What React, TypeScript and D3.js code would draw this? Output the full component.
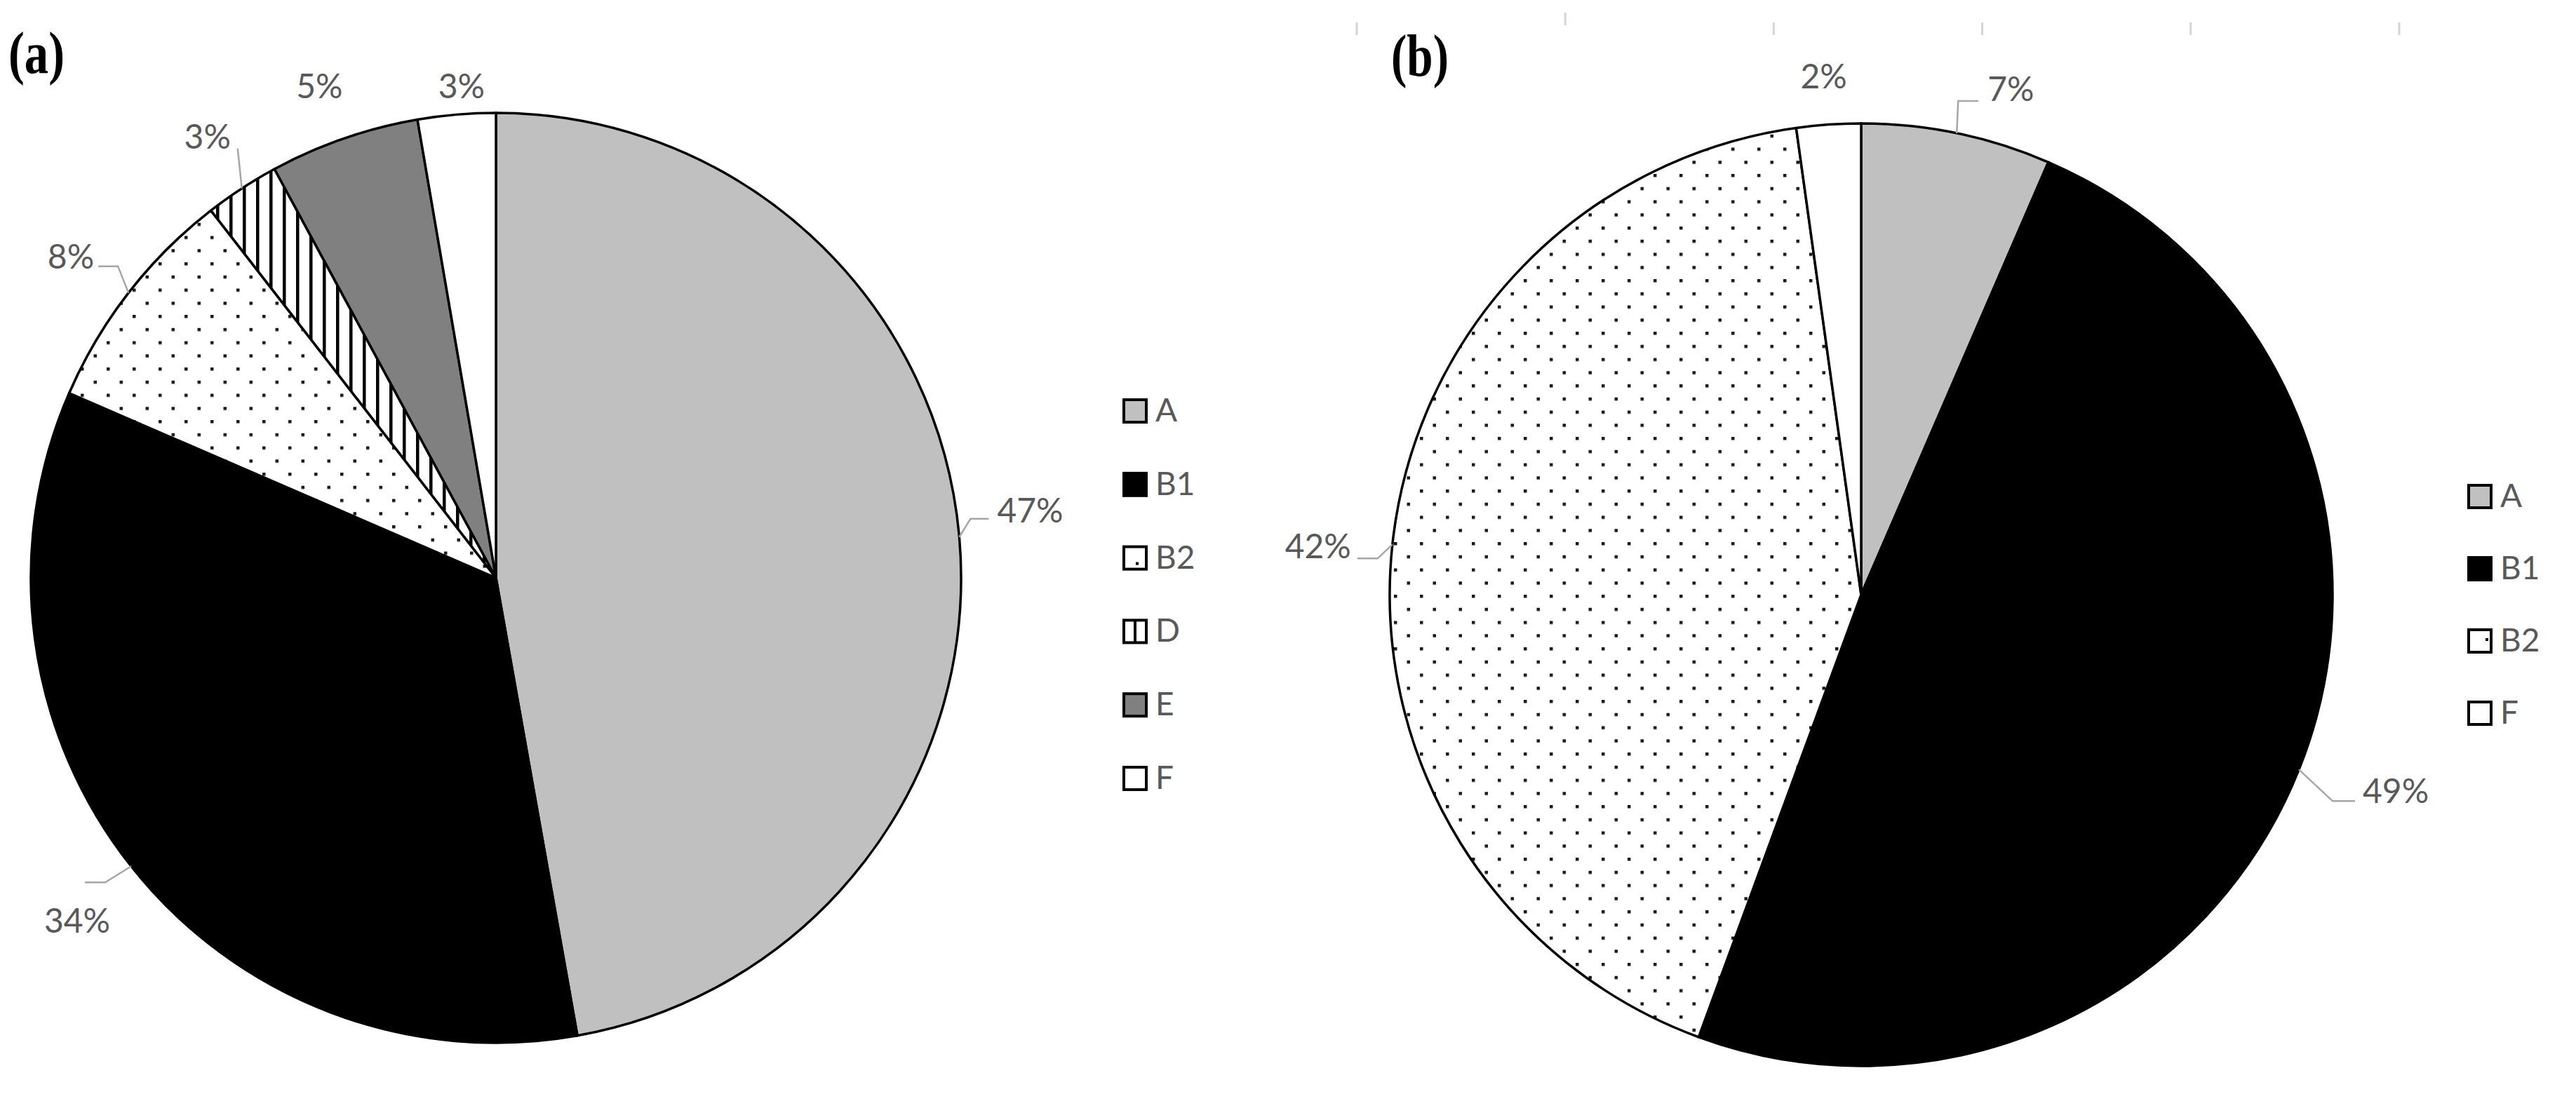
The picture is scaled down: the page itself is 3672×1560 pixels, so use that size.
import React from 'react';
import * as d3 from 'd3';

// ---------- data ----------
const categoriesA = ['A', 'B1', 'B2', 'D', 'E', 'F'];
const valuesA = [47.2, 34.3, 8.0, 2.6, 5.2, 2.7];
const labelsA = ['47%', '34%', '8%', '3%', '5%', '3%'];

const categoriesB = ['A', 'B1', 'B2', 'F'];
const valuesB = [6.5, 49.1, 42.2, 2.2];
const labelsB = ['7%', '49%', '42%', '2%'];

const panelTitles = ['(a)', '(b)'];

// ---------- styles / layout ----------
const W = 3672;
const H = 1560;
const fills: Record<string, string> = {
  A: '#c0c0c0',
  B1: '#000000',
  B2: 'url(#dotsPat)',
  D: 'url(#stripePat)',
  E: '#808080',
  F: '#ffffff',
};
const labelFont = 'Lato, "Open Sans", sans-serif';
const labelColor = '#595959';
const leaderColor = '#a6a6a6';

type LabelLayout = { anchor: string; dx: number; dy: number; leader: number[][] };

const layoutA: LabelLayout[] = [
  { anchor: 'start', dx: 54, dy: -21, leader: [[16, -26], [42, -26]] },
  { anchor: 'middle', dx: -77, dy: 95, leader: [[-37, 23], [-66, 23]] },
  { anchor: 'end', dx: -49, dy: -35, leader: [[-15, -38], [-43, -38]] },
  { anchor: 'middle', dx: -49, dy: -57, leader: [[-6, -57]] },
  { anchor: 'middle', dx: -35, dy: -57, leader: [] },
  { anchor: 'middle', dx: 7, dy: -23, leader: [] },
];
const layoutB: LabelLayout[] = [
  { anchor: 'start', dx: 44, dy: -46, leader: [[2, -46], [31, -46]] },
  { anchor: 'start', dx: 91, dy: 48, leader: [[48, 45], [80, 45]] },
  { anchor: 'end', dx: -59, dy: 20, leader: [[-21, 20], [-50, 20]] },
  { anchor: 'middle', dx: -7, dy: -52, leader: [] },
];

type PieProps = {
  cx: number;
  cy: number;
  r: number;
  cats: string[];
  vals: number[];
  labels: string[];
  layout: LabelLayout[];
};

function Pie({ cx, cy, r, cats, vals, labels, layout }: PieProps) {
  const pie = d3
    .pie<number>()
    .sort(null)
    .value((d) => d)
    .startAngle(0)
    .endAngle(2 * Math.PI);
  const arcs = pie(vals);
  const arc = d3.arc<d3.PieArcDatum<number>>().innerRadius(0).outerRadius(r);
  const line = d3.line();
  return (
    <g transform={`translate(${cx},${cy})`}>
      {arcs.map((a, i) => (
        <path
          key={cats[i]}
          d={arc(a) || ''}
          fill={fills[cats[i]]}
          stroke="#000"
          strokeWidth={3.5}
          strokeLinejoin="round"
        />
      ))}
      {arcs.map((a, i) => {
        const mid = (a.startAngle + a.endAngle) / 2;
        const ex = r * Math.sin(mid);
        const ey = -r * Math.cos(mid);
        const L = layout[i];
        const pts: [number, number][] = [[ex, ey], ...L.leader.map((p) => [ex + p[0], ey + p[1]] as [number, number])];
        return (
          <g key={'lab' + i}>
            {L.leader.length > 0 && (
              <path d={line(pts) || ''} fill="none" stroke={leaderColor} strokeWidth={2.5} />
            )}
            <text
              x={ex + L.dx}
              y={ey + L.dy}
              textAnchor={L.anchor}
              fontFamily={labelFont}
              fontSize={48}
              fill={labelColor}
            >
              {labels[i]}
            </text>
          </g>
        );
      })}
    </g>
  );
}

type LegendProps = { x: number; y0: number; step: number; cats: string[]; dotPos: number[] };

function Legend({ x, y0, step, cats, dotPos }: LegendProps) {
  const y = d3
    .scaleLinear()
    .domain([0, 1])
    .range([y0, y0 + step]);
  const s = 32;
  return (
    <g>
      {cats.map((c, i) => {
        const cy = y(i);
        const isPat = c === 'B2' || c === 'D';
        return (
          <g key={c}>
            <rect
              x={x - s / 2}
              y={cy - s / 2}
              width={s}
              height={s}
              fill={isPat ? '#fff' : fills[c]}
              stroke="#000"
              strokeWidth={4}
            />
            {c === 'D' && <line x1={x} x2={x} y1={cy - s / 2} y2={cy + s / 2} stroke="#000" strokeWidth={4} />}
            {c === 'B2' && <rect x={x + dotPos[0] - 2} y={cy + dotPos[1] - 2} width={4} height={4} fill="#000" />}
            <text x={x + s / 2 + 13} y={cy + 15} fontFamily={labelFont} fontSize={46} fill={labelColor}>
              {c}
            </text>
          </g>
        );
      })}
    </g>
  );
}

export default function App() {
  const tickScale = d3.scaleLinear().domain([0, 5]).range([1934, 3420]);
  const ticks = d3.range(6);
  return (
    <svg
      width={W}
      height={H}
      viewBox={`0 0 ${W} ${H}`}
      style={{ position: 'absolute', left: 0, top: 0, display: 'block', background: '#fff' }}
    >
      <defs>
        <pattern id="dotsPat" patternUnits="userSpaceOnUse" width={37} height={37.5}>
          <rect width={37} height={37.5} fill="#fff" />
          <rect x={0} y={0} width={4.5} height={4.5} fill="#1a1a1a" />
          <rect x={18.5} y={18.75} width={4.5} height={4.5} fill="#1a1a1a" />
        </pattern>
        <pattern id="stripePat" patternUnits="userSpaceOnUse" width={19} height={19}>
          <rect width={19} height={19} fill="#fff" />
          <rect x={0} y={0} width={4.5} height={19} fill="#000" />
        </pattern>
      </defs>
      <rect x={0} y={0} width={W} height={H} fill="#fff" />

      {/* faint axis ticks at top of panel (b) */}
      {ticks.map((t) => (
        <line
          key={t}
          x1={tickScale(t)}
          x2={tickScale(t)}
          y1={t === 1 ? 18 : 32}
          y2={t === 1 ? 36 : 50}
          stroke="#d4d4d4"
          strokeWidth={3}
        />
      ))}

      <text
        x={12}
        y={104}
        fontFamily='"Liberation Serif", "Times New Roman", serif'
        fontWeight="bold"
        fontSize={84}
        textLength={80}
        lengthAdjust="spacingAndGlyphs"
        fill="#000"
      >
        {panelTitles[0]}
      </text>
      <text
        x={1983}
        y={108}
        fontFamily='"Liberation Serif", "Times New Roman", serif'
        fontWeight="bold"
        fontSize={84}
        textLength={82}
        lengthAdjust="spacingAndGlyphs"
        fill="#000"
      >
        {panelTitles[1]}
      </text>

      <Pie cx={707} cy={824} r={663} cats={categoriesA} vals={valuesA} labels={labelsA} layout={layoutA} />
      <Pie cx={2653} cy={848} r={672} cats={categoriesB} vals={valuesB} labels={labelsB} layout={layoutB} />

      <Legend x={1618} y0={586} step={104.8} cats={categoriesA} dotPos={[3, 8]} />
      <Legend x={3535} y0={708} step={103} cats={categoriesB} dotPos={[10, -2]} />
    </svg>
  );
}
